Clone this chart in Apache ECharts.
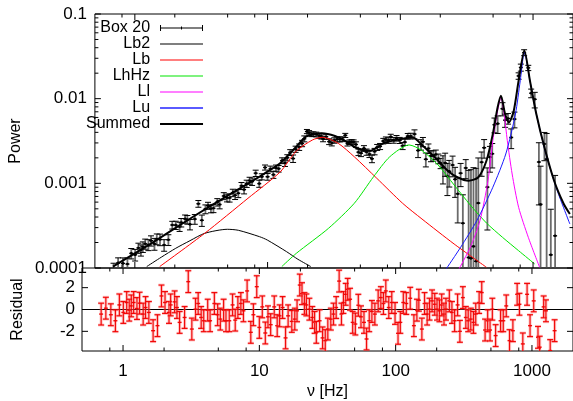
<!DOCTYPE html>
<html><head><meta charset="utf-8">
<script src="https://cdn.jsdelivr.net/npm/echarts@6/dist/echarts.min.js"></script>
<style>html,body{margin:0;padding:0;background:#fff}#c{width:573px;height:401px}</style>
</head><body><div id="c"></div>
<script>
// ---- Box 20 data (frequency [Hz], power, error) and residuals ----
const freq = [0.691,0.748,0.814,0.879,0.940,1.005,1.064,1.111,1.149,1.197,1.265,1.323,1.405,1.463,1.547,
1.662,1.789,1.914,2.033,2.174,2.236,2.391,2.486,2.601,2.829,3.010,3.197,3.402,
3.558,3.743,3.910,4.180,4.352,4.677,4.944,5.173,5.468,5.692,6.016,6.359,6.653,6.960,7.319,7.644,8.134,
8.656,9.044,9.572,10.00,10.51,11.06,11.57,12.11,12.86,13.52,14.08,14.81,15.57,16.26,17.30,18.20,18.91,
19.79,20.56,21.41,22.14,23.28,24.48,25.44,26.18,27.67,29.10,30.45,31.80,33.44,34.99,36.61,38.50,40.02,41.38,43.01,44.48,
46.30,48.38,50.61,53.22,55.68,58.56,61.16,64.00,66.95,70.41,74.42,77.87,81.34,84.68,89.06,93.67,98.97,104.1,108.2,113.8,119.7,
127.9,136.1,143.2,148.0,155.7,162.9,170.2,177.2,185.0,193.6,201.2,
209.5,217.7,226.3,233.9,247.6,258.7,270.7,284.7,295.9,311.2,
327.2,340.6,355.8,372.3,386.9,409.7,428.1,453.0,473.2,492.6,512.1,541.2,588.4,615.8,647.6,684.5,724.5,778.6,809.2,856.8,920.9,968.3,1030,1107,1139,1218,1266,1361,1466];
const power = [9.81e-5,1.149e-4,1.134e-4,1.113e-4,1.489e-4,1.433e-4,1.727e-4,1.628e-4,1.780e-4,1.930e-4,1.881e-4,2.106e-4,1.929e-4,2.202e-4,2.174e-4,
1.869e-4,2.157e-4,3.222e-4,3.209e-4,3.085e-4,3.446e-4,3.804e-4,3.728e-4,3.277e-4,3.781e-4,5.743e-4,3.659e-4,4.966e-4,
5.452e-4,5.028e-4,5.073e-4,5.994e-4,5.622e-4,7.086e-4,6.744e-4,6.744e-4,7.738e-4,7.246e-4,7.630e-4,9.333e-4,8.433e-4,9.915e-4,1.077e-3,1.050e-3,1.317e-3,
9.927e-4,1.198e-3,1.540e-3,1.198e-3,1.481e-3,1.266e-3,1.516e-3,1.491e-3,1.855e-3,1.740e-3,2.009e-3,2.317e-3,1.962e-3,2.534e-3,2.682e-3,2.963e-3,3.360e-3,
4.094e-3,3.961e-3,3.800e-3,3.811e-3,3.778e-3,3.652e-3,3.585e-3,3.350e-3,3.552e-3,3.112e-3,3.006e-3,3.214e-3,3.316e-3,3.305e-3,3.320e-3,3.685e-3,2.956e-3,3.066e-3,3.095e-3,3.080e-3,
2.877e-3,2.333e-3,2.272e-3,2.586e-3,2.343e-3,2.211e-3,1.952e-3,2.379e-3,2.662e-3,2.731e-3,3.158e-3,3.287e-3,3.209e-3,3.549e-3,3.231e-3,3.413e-3,3.219e-3,2.772e-3,3.068e-3,3.606e-3,3.625e-3,
3.814e-3,2.445e-3,2.871e-3,3.094e-3,1.922e-3,2.581e-3,2.113e-3,2.122e-3,2.194e-3,1.959e-3,1.731e-3,
1.548e-3,1.740e-3,1.216e-3,1.384e-3,1.645e-3,1.114e-3,7.516e-4,1.316e-3,3.381e-4,1.520e-3,
1.33e-4,1.30e-4,1.80e-4,1.20e-4,5.84e-4,1.777e-3,2.635e-3,9.01e-4,2.042e-3,2.236e-3,4.926e-3,5.072e-3,7.614e-3,5.572e-3,5.837e-3,3.481e-3,5.729e-3,1.857e-2,2.336e-2,3.50e-2,2.311e-2,1.161e-2,9.824e-3,1.786e-3,5.64e-4,2.92e-3,1.93e-3,1.43e-4,2.40e-4];
const powerErr = [1.57e-5,1.69e-5,1.83e-5,1.97e-5,2.10e-5,2.24e-5,2.36e-5,2.46e-5,2.54e-5,2.64e-5,2.78e-5,2.91e-5,3.09e-5,3.22e-5,3.40e-5,
2.92e-5,3.15e-5,3.37e-5,3.58e-5,3.83e-5,3.94e-5,4.21e-5,4.38e-5,4.58e-5,4.97e-5,5.28e-5,5.59e-5,5.94e-5,
5.17e-5,5.42e-5,5.65e-5,6.03e-5,6.27e-5,6.72e-5,7.08e-5,7.39e-5,7.79e-5,8.08e-5,8.51e-5,8.96e-5,9.34e-5,9.74e-5,1.02e-4,1.06e-4,1.13e-4,
9.54e-5,9.96e-5,1.06e-4,1.10e-4,1.16e-4,1.22e-4,1.28e-4,1.34e-4,1.46e-4,1.58e-4,1.68e-4,1.83e-4,1.98e-4,2.13e-4,2.35e-4,2.55e-4,2.71e-4,
2.32e-4,2.35e-4,2.38e-4,2.41e-4,2.45e-4,2.49e-4,2.52e-4,2.52e-4,2.47e-4,2.43e-4,2.40e-4,2.36e-4,2.29e-4,2.21e-4,2.13e-4,2.05e-4,1.98e-4,1.91e-4,1.84e-4,1.79e-4,
2.14e-4,2.06e-4,2.04e-4,2.01e-4,1.98e-4,1.95e-4,1.99e-4,2.07e-4,2.16e-4,2.26e-4,2.38e-4,2.42e-4,2.46e-4,2.50e-4,2.55e-4,2.60e-4,2.65e-4,2.68e-4,2.71e-4,2.74e-4,2.78e-4,
4.66e-4,4.32e-4,4.05e-4,3.87e-4,3.59e-4,3.35e-4,3.14e-4,2.96e-4,2.77e-4,2.57e-4,2.41e-4,
5.65e-4,5.31e-4,4.99e-4,4.80e-4,4.51e-4,4.31e-4,4.11e-4,4.02e-4,3.94e-4,3.85e-4,
1.29e-3,1.32e-3,1.35e-3,1.38e-3,1.41e-3,5.66e-4,6.51e-4,6.20e-4,6.88e-4,7.17e-4,9.79e-4,1.19e-3,1.35e-3,9.89e-4,8.34e-4,9.12e-4,1.21e-3,1.63e-3,2.23e-3,2.83e-3,1.66e-3,1.36e-3,2.05e-3,1.23e-3,1.03e-3,1.07e-3,1.95e-3,3.51e-4,1.00e-3];
const resid = [-0.42,0.12,-0.48,-1.03,0.42,-0.27,0.64,-0.06,0.33,0.64,0.09,0.58,-0.42,0.18,-0.27,
-1.94,-1.48,1.24,0.64,-0.27,0.42,0.70,0.18,-1.18,-0.73,2.55,-1.79,0.03,
0.55,-0.73,-1.03,-0.06,-1.03,0.55,-0.48,-0.88,-0.06,-1.03,-1.03,0.42,-0.97,0.18,0.55,-0.12,1.70,
-2.09,-0.48,2.09,-1.64,0.24,-2.15,-0.67,-1.39,0.24,-1.48,-0.58,0.18,-2.6,-0.58,-1.09,-0.88,-0.12,
2.24,1.45,0.55,0.42,0.03,-0.73,-1.18,-2.09,-1.03,-2.6,-2.85,-1.79,-0.88,-0.42,0.18,2.6,-0.42,0.64,1.39,1.85,
0.94,-1.18,-1.33,0.39,-0.67,-1.18,-2.7,-1.03,-0.18,-0.42,0.79,1.09,0.55,1.7,0.18,0.64,-0.36,-2.18,-1.18,0.64,0.55,
1.03,-1.48,-0.06,0.85,-1.79,0.55,-0.42,0.03,0.79,0.48,0.03,
-0.12,0.42,-0.42,0.03,0.79,-0.27,-1.03,0.42,-2.0,1.09,
-0.73,-1.03,-0.88,-1.18,-0.42,0.64,1.55,-1.88,-1.03,-1.88,0.03,-2.39,-1.03,-1.03,0.33,-2.85,-1.94,1.39,0.48,-3.15,1.39,-1.48,0.79,-2.55,-3.45,0.24,-0.12,-3.76,-1.94];
const residErr = 1;

// ---- model components ----
const lb2F = [1.229,1.58,2.033,2.60,3.362,4.977,6.02,8.70,9.95,13.91,16.93,21.16];
const lb2P = [1.04e-4,1.34e-4,1.71e-4,2.10e-4,2.57e-4,2.865e-4,2.79e-4,2.343e-4,2.14e-4,1.558e-4,1.267e-4,1.04e-4];
const lbF = [1.539,3.362,7.114,12.43,16.46,21.77,25.75,34.01,45.0,66.5,104.1,145.6,254.4,445.6];
const lbP = [1.04e-4,2.57e-4,6.66e-4,1.361e-3,2.41e-3,3.25e-3,3.50e-3,2.97e-3,2.06e-3,1.147e-3,5.81e-4,3.79e-4,1.92e-4,1.02e-4];
const lhF = [12.8,16.46,28.75,45.0,62.9,83.3,116.5,145.6,192.6,254.4,336.6,445.6,588.4,778.6,1030];
const lhP = [1.04e-4,1.49e-4,2.94e-4,5.81e-4,1.198e-3,2.06e-3,2.84e-3,2.44e-3,1.646e-3,9.56e-4,5.55e-4,3.40e-4,2.305e-4,1.60e-4,1.115e-4];
const llF = [276.7,336.6,398.1,457.6,497.7,541.2,573,605.6,640,695.9,778.6,920.9,1120.5];
const llP = [9.73e-5,1.756e-4,3.62e-4,1.074e-3,3.19e-3,7.21e-3,1.038e-2,6.59e-3,3.19e-3,1.289e-3,5.21e-4,2.305e-4,1.02e-4];
const luF = [221.4,284.7,376.7,497.7,623,736.9,801,861,947.5,1058.5,1252,1523,1894];
const luP = [9.73e-5,1.756e-4,3.62e-4,8.98e-4,2.22e-3,6.59e-3,1.631e-2,3.53e-2,1.631e-2,6.59e-3,2.22e-3,8.18e-4,3.31e-4];
const sumF = [0.684,1.33,2.69,5.09,8.70,9.95,12.43,16.46,19.46,25.75,32.2,38.05,47.3,59.5,74.4,98.5,123.1,145.6,181.9,227.8,269.3,327.2,386.9,445.6,497.7,541.2,573,615.8,658.3,716,778.6,861,947.5,1058.5,1218,1441,1704,1894];
const sumP = [1.04e-4,1.95e-4,3.95e-4,7.28e-4,1.198e-3,1.372e-3,1.724e-3,2.708e-3,3.555e-3,3.90e-3,3.62e-3,3.19e-3,2.594e-3,2.428e-3,2.97e-3,3.31e-3,3.50e-3,2.84e-3,2.03e-3,1.41e-3,1.18e-3,1.074e-3,1.18e-3,1.85e-3,3.83e-3,7.91e-3,1.084e-2,6.59e-3,5.26e-3,7.21e-3,1.631e-2,3.685e-2,1.631e-2,6.59e-3,2.665e-3,1.074e-3,5.70e-4,4.34e-4];

// ---- ticks ----
const xLabels = [1,10,100,1000];
const xMinor = [0.8,2,5,8,20,50,80,200,500,800];
const yLabels = [0.0001,0.001,0.01,0.1];
const yMinor = [2e-4,3e-4,4e-4,5e-4,6e-4,7e-4,8e-4,9e-4,2e-3,3e-3,4e-3,5e-3,6e-3,7e-3,8e-3,9e-3,2e-2,3e-2,4e-2,5e-2,6e-2,7e-2,8e-2,9e-2];
const resLabels = [-2,0,2];

const FONT = 'Liberation Sans, Arial, sans-serif';
const zip = (a,b) => a.map((v,i)=>[v,b[i]]);

const boxData = freq.map((f,i)=>[f, power[i], Math.max(power[i]-powerErr[i], 1e-7), power[i]+powerErr[i]]);
const resData = freq.map((f,i)=>[f, resid[i], resid[i]-residErr, resid[i]+residErr]);

function ln(x1,y1,x2,y2,stroke,w){return {type:'line',shape:{x1,y1,x2,y2},style:{stroke,lineWidth:w}};}

function renderBox(params, api){
  const f=api.value(0), p=api.value(1), lo=api.value(2), hi=api.value(3);
  const c=api.coord([f,p]), t=api.coord([f,hi]), b=api.coord([f,lo]);
  const x=c[0], cap=3;
  return {type:'group',children:[
    ln(x,t[1],x,b[1],'rgba(70,70,70,0.8)',1.8),
    ln(x-cap,t[1],x+cap,t[1],'#000',1),
    ln(x-cap,b[1],x+cap,b[1],'#000',1),
    ln(x-2,c[1],x+2,c[1],'#000',1.4),
    {type:'circle',shape:{cx:x,cy:c[1],r:1.3},style:{fill:'#000'}}
  ]};
}
function renderRes(params, api){
  const f=api.value(0), r=api.value(1), lo=api.value(2), hi=api.value(3);
  const c=api.coord([f,r]), t=api.coord([f,hi]), b=api.coord([f,lo]);
  const x=c[0], cap=3, halo='rgba(255,110,110,0.35)', red='rgba(240,0,0,0.95)';
  return {type:'group',children:[
    ln(x,t[1],x,b[1],halo,3.2),
    ln(x-cap,t[1],x+cap,t[1],halo,3),
    ln(x-cap,b[1],x+cap,b[1],halo,3),
    ln(x,t[1],x,b[1],red,1.2),
    ln(x-cap,t[1],x+cap,t[1],red,1.2),
    ln(x-cap,b[1],x+cap,b[1],red,1.2),
    ln(x-2,c[1],x+2,c[1],red,1.4)
  ]};
}
function renderTicks(params, api){
  const cs=params.coordSys, kind=api.value(2);
  const p=api.coord([api.value(0),api.value(1)]);
  const ch=[];
  if(kind<2){
    const L = kind===0?6:3.5;
    ch.push(ln(p[0],cs.y+cs.height,p[0],cs.y+cs.height-L,'#000',1));
    ch.push(ln(p[0],cs.y,p[0],cs.y+L,'#000',1));
  } else {
    const L = kind===2?6:3.5;
    ch.push(ln(cs.x,p[1],cs.x+L,p[1],'#000',1));
    ch.push(ln(cs.x+cs.width,p[1],cs.x+cs.width-L,p[1],'#000',1));
  }
  return {type:'group',children:ch};
}
function renderZero(params, api){
  const cs=params.coordSys;
  const y=api.coord([api.value(0),api.value(1)])[1];
  return ln(cs.x,y,cs.x+cs.width,y,'#000',1);
}

const ticks0 = [].concat(
  xLabels.map(v=>[v,0.001,0]), xMinor.map(v=>[v,0.001,1]),
  yLabels.map(v=>[1,v,2]), yMinor.map(v=>[1,v,3]));
const ticks1 = [].concat(
  xLabels.map(v=>[v,0,0]), xMinor.map(v=>[v,0,1]), resLabels.map(v=>[1,v,2]));

const chart = echarts.init(document.getElementById('c'), null, {renderer:'canvas'});
const lineS = (name, F, P, color, w, z) => ({
  name, type:'line', xAxisIndex:0, yAxisIndex:0, data: zip(F,P), symbol:'none', showSymbol:false,
  smooth:0.25, lineStyle:{color, width:w}, itemStyle:{color}, z, silent:true, clip:true
});
const tickFont = {fontSize:17, color:'#000', fontFamily:FONT};
const nameFont = {fontSize:16, color:'#000', fontFamily:FONT};
const lineIcon = 'path://M0,0 M0,16 M5,7.5h43v1h-43z';
const thickIcon = 'path://M0,0 M0,16 M5,7h43v2h-43z';
chart.setOption({
  animation:false,
  backgroundColor:'#fff',
  textStyle:{fontFamily:FONT},
  grid:[
    {left:82, top:14, right:-3, height:254, show:true, borderColor:'#000', borderWidth:1, backgroundColor:'transparent'},
    {left:82, top:268, right:-3, height:84, show:true, borderColor:'#000', borderWidth:1, backgroundColor:'transparent'}
  ],
  xAxis:[
    {type:'log', logBase:10, gridIndex:0, min:0.5, max:2000, axisLine:{show:false}, axisTick:{show:false}, axisLabel:{show:false}, splitLine:{show:false}},
    {type:'log', logBase:10, gridIndex:1, min:0.5, max:2000, axisLine:{show:false, onZero:false}, axisTick:{show:false}, splitLine:{show:false},
     axisLabel:Object.assign({customValues:xLabels, margin:12, formatter:v=>String(v)}, tickFont),
     name:'ν [Hz]', nameLocation:'middle', nameGap:33, nameTextStyle:nameFont}
  ],
  yAxis:[
    {type:'log', logBase:10, gridIndex:0, min:0.0001, max:0.1, axisLine:{show:false}, axisTick:{show:false}, splitLine:{show:false},
     axisLabel:Object.assign({customValues:yLabels, margin:8, formatter:v=>String(v)}, tickFont),
     name:'Power', nameLocation:'middle', nameGap:56, nameTextStyle:nameFont},
    {type:'value', gridIndex:1, min:-3.8, max:3.8, axisLine:{show:false}, axisTick:{show:false}, splitLine:{show:false},
     axisLabel:Object.assign({customValues:resLabels, margin:7, formatter:v=>String(v)}, tickFont),
     name:'Residual', nameLocation:'middle', nameGap:56, nameTextStyle:nameFont}
  ],
  legend:{
    orient:'vertical', align:'right', left:86, top:20, padding:0, itemGap:0, itemWidth:48, itemHeight:16,
    symbolKeepAspect:true, selectedMode:false, textStyle:{fontSize:16, color:'#000', fontFamily:FONT},
    data:[
      {name:'Box 20', icon:'path://M0,0 M0,16 M5,5h1v6h-1z M6,7.5h41v1h-41z M47,5h1v6h-1z M26,6.5h1v3h-1z', itemStyle:{color:'#000', borderWidth:0}},
      {name:'Lb2', icon:lineIcon, itemStyle:{color:'#000000', borderWidth:0}},
      {name:'Lb', icon:lineIcon, itemStyle:{color:'#ff0000', borderWidth:0}},
      {name:'LhHz', icon:lineIcon, itemStyle:{color:'#00e600', borderWidth:0}},
      {name:'Ll', icon:lineIcon, itemStyle:{color:'#ff00ff', borderWidth:0}},
      {name:'Lu', icon:thickIcon, itemStyle:{color:'#5a5aff', borderWidth:0}},
      {name:'Summed', icon:thickIcon, itemStyle:{color:'#000000', borderWidth:0}}
    ]
  },
  series:[
    {name:'Box 20', type:'custom', xAxisIndex:0, yAxisIndex:0, renderItem:renderBox, data:boxData, clip:true, z:2, silent:true, itemStyle:{color:'#000'}},
    lineS('Lb2', lb2F, lb2P, '#000000', 1, 3),
    lineS('Lb', lbF, lbP, '#ff0000', 1, 3),
    lineS('LhHz', lhF, lhP, '#00e600', 1, 3),
    lineS('Ll', llF, llP, '#ff00ff', 1, 3),
    lineS('Lu', luF, luP, '#1a1aff', 1, 3),
    lineS('Summed', sumF, sumP, '#000000', 2, 4),
    {name:'ticks0', type:'custom', xAxisIndex:0, yAxisIndex:0, renderItem:renderTicks, data:ticks0, clip:false, silent:true, z:5},
    {name:'zero', type:'custom', xAxisIndex:1, yAxisIndex:1, renderItem:renderZero, data:[[1,0]], clip:false, silent:true, z:1},
    {name:'Residual', type:'custom', xAxisIndex:1, yAxisIndex:1, renderItem:renderRes, data:resData, clip:true, silent:true, z:2},
    {name:'ticks1', type:'custom', xAxisIndex:1, yAxisIndex:1, renderItem:renderTicks, data:ticks1, clip:false, silent:true, z:5}
  ]
});
</script></body></html>
